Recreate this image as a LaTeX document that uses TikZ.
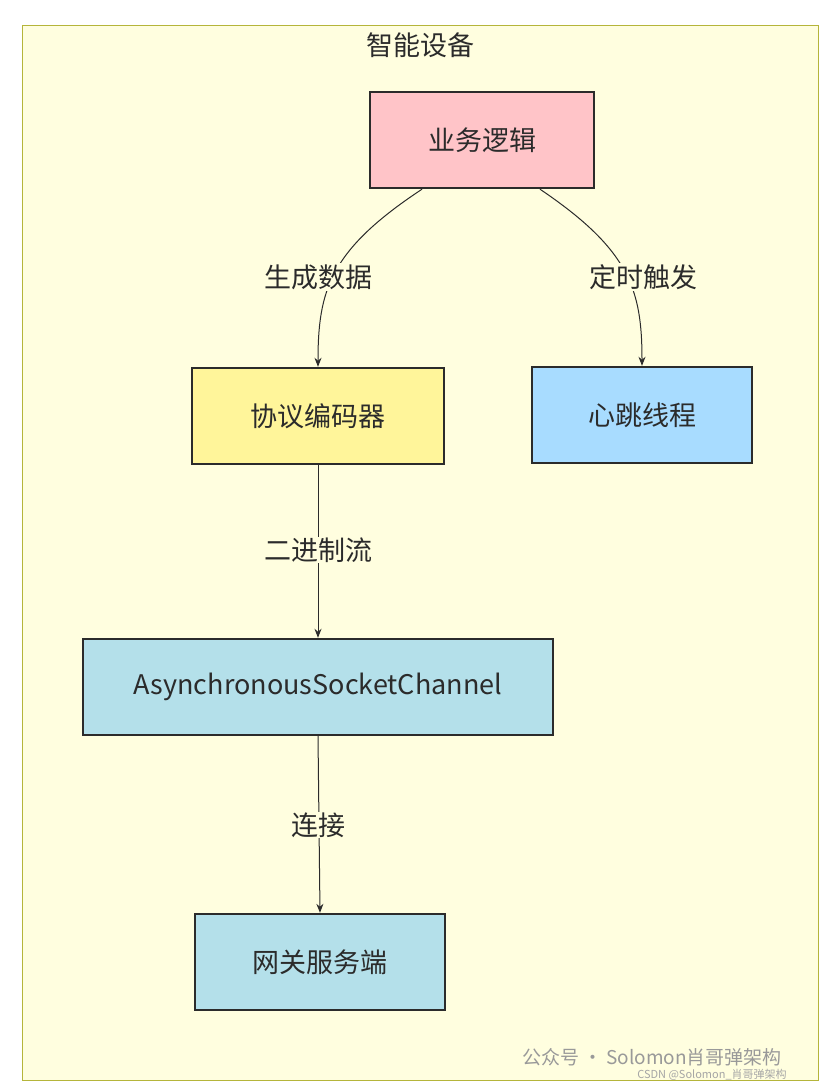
\documentclass[tikz,border=0pt]{standalone}
\usepackage{fontspec}
\setmainfont{Noto Sans CJK SC}
\usetikzlibrary{calc,arrows.meta}
\definecolor{bgyellow}{HTML}{FFFEDF}
\definecolor{frameol}{HTML}{B5B53A}
\definecolor{pinkfill}{HTML}{FFC4C8}
\definecolor{yelfill}{HTML}{FFF59A}
\definecolor{bluefill}{HTML}{A8DCFF}
\definecolor{tealfill}{HTML}{B4E0EA}
\definecolor{inkc}{HTML}{2B2B2B}

\begin{document}
\begin{tikzpicture}[x=1pt,y=-1pt]
\tikzstyle{box}=[draw=inkc,line width=2.4pt,minimum height=96pt,font=\fontsize{27}{31}\selectfont,text=inkc]
\tikzstyle{lbl}=[font=\fontsize{27}{31}\selectfont,text=inkc]
\tikzstyle{flow}=[draw=inkc,line width=1pt,-{Stealth[length=9pt,width=7pt]}]
\useasboundingbox (0,0) rectangle (832,1090);
\draw[frameol,fill=bgyellow,line width=1pt] (22,25) rectangle (818,1080);
\node[lbl] (title) at (420,45) {智能设备};
\node[box,fill=pinkfill,minimum width=224pt] (biz) at (482,140) {业务逻辑};
\node[box,fill=yelfill,minimum width=252pt] (enc) at (318,416) {协议编码器};
\node[box,fill=bluefill,minimum width=220pt] (beat) at (642,415) {心跳线程};
\node[box,fill=tealfill,minimum width=470pt] (chan) at (318,687) {AsynchronousSocketChannel};
\node[box,fill=tealfill,minimum width=250pt] (gw) at (320,962) {网关服务端};
\draw[flow] ($(biz.south)+(-60,0)$) .. controls (330,250) and (318,290) .. (enc.north);
\draw[flow] ($(biz.south)+(58,0)$) .. controls (630,250) and (642,290) .. (beat.north);
\draw[flow] (enc.south) -- (chan.north);
\draw[flow] (chan.south) -- (gw.north);
\node[lbl,fill=bgyellow,inner sep=1pt] (l1) at (318,277) {生成数据};
\node[lbl,fill=bgyellow,inner sep=1pt] (l2) at (643,277) {定时触发};
\node[lbl,fill=bgyellow,inner sep=1pt] (l3) at (318,550) {二进制流};
\node[lbl,fill=bgyellow,inner sep=1pt] (l4) at (318,825) {连接};
\node[font=\fontsize{19}{22}\selectfont,text=gray!80] (wm) at (652,1057) {公众号 · Solomon肖哥弹架构};
\node[font=\fontsize{11}{13}\selectfont,text=gray!70] (csdn) at (712,1075) {CSDN @Solomon\_肖哥弹架构};
\end{tikzpicture}
\end{document}
